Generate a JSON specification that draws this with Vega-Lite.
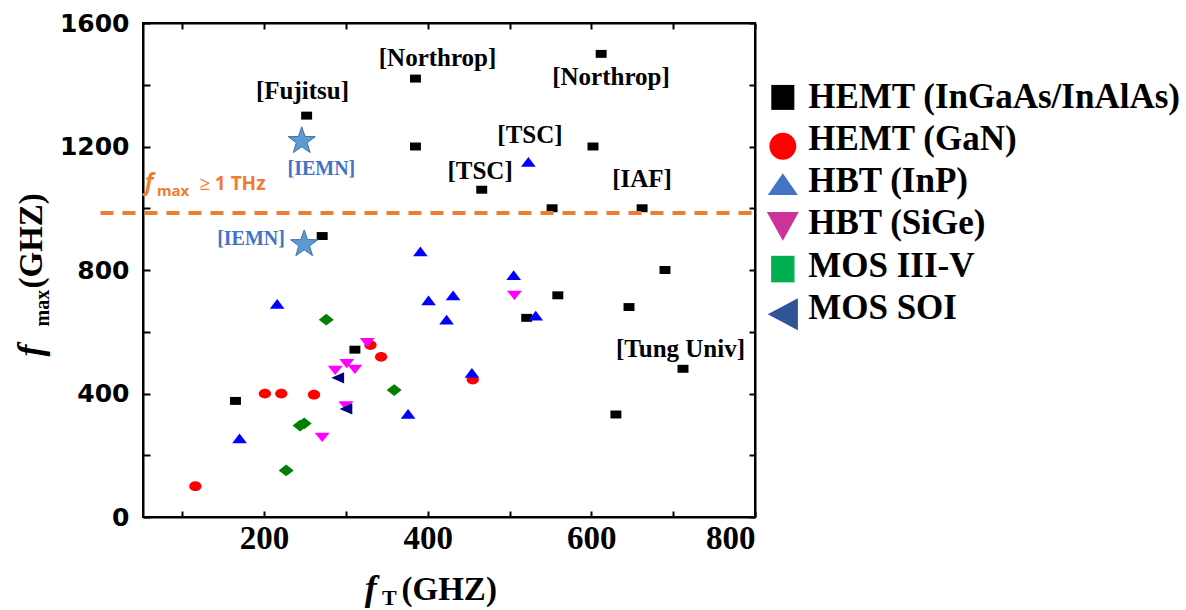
{
  "$schema": "https://vega.github.io/schema/vega-lite/v6.json",
  "width": 612,
  "height": 494,
  "autosize": {"type": "none"},
  "padding": {"left": 143, "top": 23, "right": 431, "bottom": 93},
  "background": "white",
  "config": {
    "font": "Liberation Serif",
    "view": {"stroke": "black", "strokeWidth": 2},
    "axis": {"domainColor": "black", "domainWidth": 2, "tickColor": "black", "tickWidth": 2, "grid": false, "labelColor": "black"}
  },
  "datasets": {
    "pts": [
      {"type": "HEMT (InGaAs/InAlAs)", "fT": 252, "fmax": 1300},
      {"type": "HEMT (InGaAs/InAlAs)", "fT": 385, "fmax": 1420},
      {"type": "HEMT (InGaAs/InAlAs)", "fT": 385, "fmax": 1200},
      {"type": "HEMT (InGaAs/InAlAs)", "fT": 612, "fmax": 1500},
      {"type": "HEMT (InGaAs/InAlAs)", "fT": 602, "fmax": 1200},
      {"type": "HEMT (InGaAs/InAlAs)", "fT": 466, "fmax": 1060},
      {"type": "HEMT (InGaAs/InAlAs)", "fT": 552, "fmax": 1000},
      {"type": "HEMT (InGaAs/InAlAs)", "fT": 662, "fmax": 1000},
      {"type": "HEMT (InGaAs/InAlAs)", "fT": 271, "fmax": 910},
      {"type": "HEMT (InGaAs/InAlAs)", "fT": 690, "fmax": 800},
      {"type": "HEMT (InGaAs/InAlAs)", "fT": 559, "fmax": 718},
      {"type": "HEMT (InGaAs/InAlAs)", "fT": 646, "fmax": 680},
      {"type": "HEMT (InGaAs/InAlAs)", "fT": 521, "fmax": 645},
      {"type": "HEMT (InGaAs/InAlAs)", "fT": 712, "fmax": 480},
      {"type": "HEMT (InGaAs/InAlAs)", "fT": 630, "fmax": 332},
      {"type": "HEMT (InGaAs/InAlAs)", "fT": 311, "fmax": 542},
      {"type": "HEMT (InGaAs/InAlAs)", "fT": 165, "fmax": 376},
      {"type": "HEMT (GaN)", "fT": 116, "fmax": 100},
      {"type": "HEMT (GaN)", "fT": 201, "fmax": 400},
      {"type": "HEMT (GaN)", "fT": 221, "fmax": 400},
      {"type": "HEMT (GaN)", "fT": 261, "fmax": 396},
      {"type": "HEMT (GaN)", "fT": 330, "fmax": 557},
      {"type": "HEMT (GaN)", "fT": 343, "fmax": 519},
      {"type": "HEMT (GaN)", "fT": 455, "fmax": 445},
      {"type": "HBT (SiGe)", "fT": 326, "fmax": 565},
      {"type": "HBT (SiGe)", "fT": 287, "fmax": 475},
      {"type": "HBT (SiGe)", "fT": 301, "fmax": 497},
      {"type": "HBT (SiGe)", "fT": 311, "fmax": 478},
      {"type": "HBT (SiGe)", "fT": 300, "fmax": 360},
      {"type": "HBT (SiGe)", "fT": 271, "fmax": 258},
      {"type": "HBT (SiGe)", "fT": 506, "fmax": 718},
      {"type": "MOS III-V", "fT": 276, "fmax": 639},
      {"type": "MOS III-V", "fT": 359, "fmax": 411},
      {"type": "MOS III-V", "fT": 244, "fmax": 296},
      {"type": "MOS III-V", "fT": 249, "fmax": 303},
      {"type": "MOS III-V", "fT": 227, "fmax": 151},
      {"type": "HBT (InP)", "fT": 391, "fmax": 860},
      {"type": "HBT (InP)", "fT": 216, "fmax": 690},
      {"type": "HBT (InP)", "fT": 170, "fmax": 255},
      {"type": "HBT (InP)", "fT": 376, "fmax": 334},
      {"type": "HBT (InP)", "fT": 401, "fmax": 702},
      {"type": "HBT (InP)", "fT": 423, "fmax": 639},
      {"type": "HBT (InP)", "fT": 431, "fmax": 718},
      {"type": "HBT (InP)", "fT": 505, "fmax": 783},
      {"type": "HBT (InP)", "fT": 532, "fmax": 652},
      {"type": "HBT (InP)", "fT": 454, "fmax": 467},
      {"type": "HBT (InP)", "fT": 523, "fmax": 1150},
      {"type": "MOS SOI", "fT": 290, "fmax": 451},
      {"type": "MOS SOI", "fT": 300, "fmax": 350}
    ],
    "legendRows": [
      {"entry": "HEMT (InGaAs/InAlAs)", "sx": 834, "sy": 1359, "tx": 865, "ty": 1361},
      {"entry": "HEMT (GaN)", "sx": 834, "sy": 1201, "tx": 865, "ty": 1223},
      {"entry": "HBT (InP)", "sx": 834, "sy": 1078, "tx": 865, "ty": 1088},
      {"entry": "HBT (SiGe)", "sx": 834, "sy": 941, "tx": 865, "ty": 953},
      {"entry": "MOS III-V", "sx": 834, "sy": 803, "tx": 865, "ty": 813},
      {"entry": "MOS SOI", "sx": 834, "sy": 657, "tx": 865, "ty": 677}
    ],
    "stars": [
      {"fT": 246, "fmax": 1222},
      {"fT": 249, "fmax": 888}
    ],
    "limit": [{"x0": 0, "x1": 805, "y": 985}],
    "notes": [
      {"label": "[Fujitsu]", "x": 247, "y": 1379},
      {"label": "[Northrop]", "x": 412, "y": 1486},
      {"label": "[Northrop]", "x": 624, "y": 1424},
      {"label": "[TSC]", "x": 525, "y": 1236},
      {"label": "[TSC]", "x": 464, "y": 1121},
      {"label": "[IAF]", "x": 662, "y": 1094},
      {"label": "[Tung Univ]", "x": 709, "y": 543}
    ],
    "iemn": [
      {"label": "[IEMN]", "x": 270, "y": 1126},
      {"label": "[IEMN]", "x": 184, "y": 899}
    ],
    "thz_f": [{"label": "f", "x": 54, "y": 1058}],
    "thz_sub": [{"label": "max", "x": 69, "y": 1039}],
    "thz_rest": [{"label": "≥ 1 THz", "x": 121, "y": 1058}],
    "xt_f": [{"label": "f", "x": 323, "y": -268}],
    "xt_sub": [{"label": "T", "x": 344, "y": -285}],
    "xt_rest": [{"label": "(GHZ)", "x": 368, "y": -268}],
    "yt_f": [{"label": "f", "x": -72, "y": 520}],
    "yt_sub": [{"label": "max", "x": -63.5, "y": 617}],
    "yt_rest": [{"label": "(GHZ)", "x": -72, "y": 740}]
  },
  "resolve": {"axis": {"x": "independent", "y": "independent"}, "scale": {"color": "independent", "shape": "independent"}},
  "layer": [
    {
      "data": {"name": "pts"},
      "mark": {"type": "point", "filled": true, "opacity": 1, "size": 225, "strokeWidth": 0},
      "encoding": {
        "x": {"field": "fT", "type": "quantitative", "scale": {"domain": [52, 800], "nice": false, "zero": false},
          "axis": {"orient": "bottom", "values": [100, 200, 300, 400, 500, 600, 700, 800], "title": null,
            "labelExpr": "datum.value % 200 === 0 ? datum.label : ''",
            "labelFont": "Liberation Serif", "labelFontWeight": "bold", "labelFontSize": 33, "labelPadding": 11,
            "tickSize": -6}},
        "y": {"field": "fmax", "type": "quantitative", "scale": {"domain": [0, 1600], "nice": false, "zero": false},
          "axis": {"orient": "left", "values": [0, 200, 400, 600, 800, 1000, 1200, 1400, 1600], "title": null, "format": "d",
            "labelExpr": "datum.value % 400 === 0 ? datum.label : ''",
            "labelFont": "DejaVu Sans", "labelFontWeight": "bold", "labelFontSize": 25, "labelPadding": 21,
            "tickSize": -7}},
        "color": {"field": "type", "type": "nominal", "legend": null,
          "scale": {"domain": ["HEMT (InGaAs/InAlAs)", "HEMT (GaN)", "HBT (InP)", "HBT (SiGe)", "MOS III-V", "MOS SOI"],
            "range": ["#000000", "#FF0000", "#0000FF", "#FF00FF", "#008000", "#000080"]}},
        "shape": {"field": "type", "type": "nominal", "legend": null,
          "scale": {"domain": ["HEMT (InGaAs/InAlAs)", "HEMT (GaN)", "HBT (InP)", "HBT (SiGe)", "MOS III-V", "MOS SOI"],
            "range": ["M-0.73,-0.53L0.73,-0.53L0.73,0.53L-0.73,0.53Z",
              "M-0.82,0A0.82,0.65 0 1,0 0.82,0A0.82,0.65 0 1,0 -0.82,0Z",
              "M0,-0.65L0.98,0.65L-0.98,0.65Z",
              "M-1,-0.62L1,-0.62L0,0.62Z",
              "M0,-0.78L1,0L0,0.78L-1,0Z",
              "M-0.85,0L0.85,-0.75L0.85,0.75Z"]}}
      }
    },
    {
      "data": {"name": "limit"},
      "mark": {"type": "rule", "stroke": "#ED7D31", "strokeWidth": 4, "strokeDash": [13, 9]},
      "encoding": {
        "x": {"field": "x0", "type": "quantitative",
          "axis": {"orient": "top", "values": [100, 200, 300, 400, 500, 600, 700, 800], "labels": false, "title": null, "tickSize": -6}},
        "x2": {"field": "x1"},
        "y": {"field": "y", "type": "quantitative",
          "axis": {"orient": "right", "values": [0, 200, 400, 600, 800, 1000, 1200, 1400, 1600], "labels": false, "title": null, "tickSize": -6}}
      }
    },
    {
      "data": {"name": "stars"},
      "mark": {"type": "point", "shape": "M0,-0.905L0.235,-0.229L0.951,-0.214L0.38,0.219L0.588,0.904L0,0.495L-0.588,0.904L-0.38,0.219L-0.951,-0.214L-0.235,-0.229Z",
        "filled": true, "fill": "#5B9BD5", "stroke": "#41719C", "strokeWidth": 1, "opacity": 1, "size": 810},
      "encoding": {
        "x": {"field": "fT", "type": "quantitative", "axis": null},
        "y": {"field": "fmax", "type": "quantitative", "axis": null}
      }
    },
    {
      "data": {"name": "legendRows"},
      "mark": {"type": "point", "filled": true, "opacity": 1, "size": 1024, "strokeWidth": 0},
      "encoding": {
        "x": {"field": "sx", "type": "quantitative", "axis": null},
        "y": {"field": "sy", "type": "quantitative", "axis": null},
        "color": {"field": "entry", "type": "nominal", "legend": null,
          "scale": {"domain": ["HEMT (InGaAs/InAlAs)", "HEMT (GaN)", "HBT (InP)", "HBT (SiGe)", "MOS III-V", "MOS SOI"],
            "range": ["#000000", "#FF0000", "#4472C4", "#CC3399", "#00B050", "#2F5597"]}},
        "shape": {"field": "entry", "type": "nominal", "legend": null,
          "scale": {"domain": ["HEMT (InGaAs/InAlAs)", "HEMT (GaN)", "HBT (InP)", "HBT (SiGe)", "MOS III-V", "MOS SOI"],
            "range": ["M-0.72,-0.78L0.72,-0.78L0.72,0.78L-0.72,0.78Z",
              "M-0.84,0A0.84,0.84 0 1,0 0.84,0A0.84,0.84 0 1,0 -0.84,0Z",
              "M0,-0.68L0.94,0.68L-0.94,0.68Z",
              "M-1,-0.9L1,-0.9L0,0.9Z",
              "M-0.73,-0.83L0.73,-0.83L0.73,0.83L-0.73,0.83Z",
              "M-0.94,0L0.94,-1L0.94,1Z"]}}
      }
    },
    {
      "data": {"name": "legendRows"},
      "mark": {"type": "text", "font": "Liberation Serif", "fontWeight": "bold", "fontSize": 35, "color": "black", "align": "left", "baseline": "middle"},
      "encoding": {
        "x": {"field": "tx", "type": "quantitative", "axis": null},
        "y": {"field": "ty", "type": "quantitative", "axis": null},
        "text": {"field": "entry"}
      }
    },
    {
      "data": {"name": "notes"},
      "mark": {"type": "text", "font": "Liberation Serif", "fontWeight": "bold", "fontSize": 25, "color": "black", "align": "center", "baseline": "middle"},
      "encoding": {
        "x": {"field": "x", "type": "quantitative", "axis": null},
        "y": {"field": "y", "type": "quantitative", "axis": null},
        "text": {"field": "label"}
      }
    },
    {
      "data": {"name": "iemn"},
      "mark": {"type": "text", "font": "Liberation Serif", "fontWeight": "bold", "fontSize": 20, "color": "#4472C4", "align": "center", "baseline": "middle"},
      "encoding": {
        "x": {"field": "x", "type": "quantitative", "axis": null},
        "y": {"field": "y", "type": "quantitative", "axis": null},
        "text": {"field": "label"}
      }
    },
    {
      "data": {"name": "thz_f"},
      "mark": {"type": "text", "font": "Noto Sans", "fontWeight": "bold", "fontStyle": "italic", "fontSize": 23, "color": "#ED7D31", "align": "left", "baseline": "alphabetic"},
      "encoding": {
        "x": {"field": "x", "type": "quantitative", "axis": null},
        "y": {"field": "y", "type": "quantitative", "axis": null},
        "text": {"field": "label"}
      }
    },
    {
      "data": {"name": "thz_sub"},
      "mark": {"type": "text", "font": "Noto Sans", "fontWeight": "bold", "fontSize": 15, "color": "#ED7D31", "align": "left", "baseline": "alphabetic"},
      "encoding": {
        "x": {"field": "x", "type": "quantitative", "axis": null},
        "y": {"field": "y", "type": "quantitative", "axis": null},
        "text": {"field": "label"}
      }
    },
    {
      "data": {"name": "thz_rest"},
      "mark": {"type": "text", "font": "Noto Sans", "fontWeight": "bold", "fontSize": 19, "color": "#ED7D31", "align": "left", "baseline": "alphabetic"},
      "encoding": {
        "x": {"field": "x", "type": "quantitative", "axis": null},
        "y": {"field": "y", "type": "quantitative", "axis": null},
        "text": {"field": "label"}
      }
    },
    {
      "data": {"name": "xt_f"},
      "mark": {"type": "text", "font": "Liberation Serif", "fontWeight": "bold", "fontStyle": "italic", "fontSize": 36, "color": "black", "align": "left", "baseline": "alphabetic"},
      "encoding": {
        "x": {"field": "x", "type": "quantitative", "axis": null},
        "y": {"field": "y", "type": "quantitative", "axis": null},
        "text": {"field": "label"}
      }
    },
    {
      "data": {"name": "xt_sub"},
      "mark": {"type": "text", "font": "Liberation Serif", "fontWeight": "bold", "fontSize": 22, "color": "black", "align": "left", "baseline": "alphabetic"},
      "encoding": {
        "x": {"field": "x", "type": "quantitative", "axis": null},
        "y": {"field": "y", "type": "quantitative", "axis": null},
        "text": {"field": "label"}
      }
    },
    {
      "data": {"name": "xt_rest"},
      "mark": {"type": "text", "font": "Liberation Serif", "fontWeight": "bold", "fontSize": 33, "color": "black", "align": "left", "baseline": "alphabetic"},
      "encoding": {
        "x": {"field": "x", "type": "quantitative", "axis": null},
        "y": {"field": "y", "type": "quantitative", "axis": null},
        "text": {"field": "label"}
      }
    },
    {
      "data": {"name": "yt_f"},
      "mark": {"type": "text", "font": "Liberation Serif", "fontWeight": "bold", "fontStyle": "italic", "fontSize": 36, "color": "black", "align": "left", "baseline": "alphabetic", "angle": 270},
      "encoding": {
        "x": {"field": "x", "type": "quantitative", "axis": null},
        "y": {"field": "y", "type": "quantitative", "axis": null},
        "text": {"field": "label"}
      }
    },
    {
      "data": {"name": "yt_sub"},
      "mark": {"type": "text", "font": "Liberation Serif", "fontWeight": "bold", "fontSize": 20, "color": "black", "align": "left", "baseline": "alphabetic", "angle": 270},
      "encoding": {
        "x": {"field": "x", "type": "quantitative", "axis": null},
        "y": {"field": "y", "type": "quantitative", "axis": null},
        "text": {"field": "label"}
      }
    },
    {
      "data": {"name": "yt_rest"},
      "mark": {"type": "text", "font": "Liberation Serif", "fontWeight": "bold", "fontSize": 33, "color": "black", "align": "left", "baseline": "alphabetic", "angle": 270},
      "encoding": {
        "x": {"field": "x", "type": "quantitative", "axis": null},
        "y": {"field": "y", "type": "quantitative", "axis": null},
        "text": {"field": "label"}
      }
    }
  ]
}
